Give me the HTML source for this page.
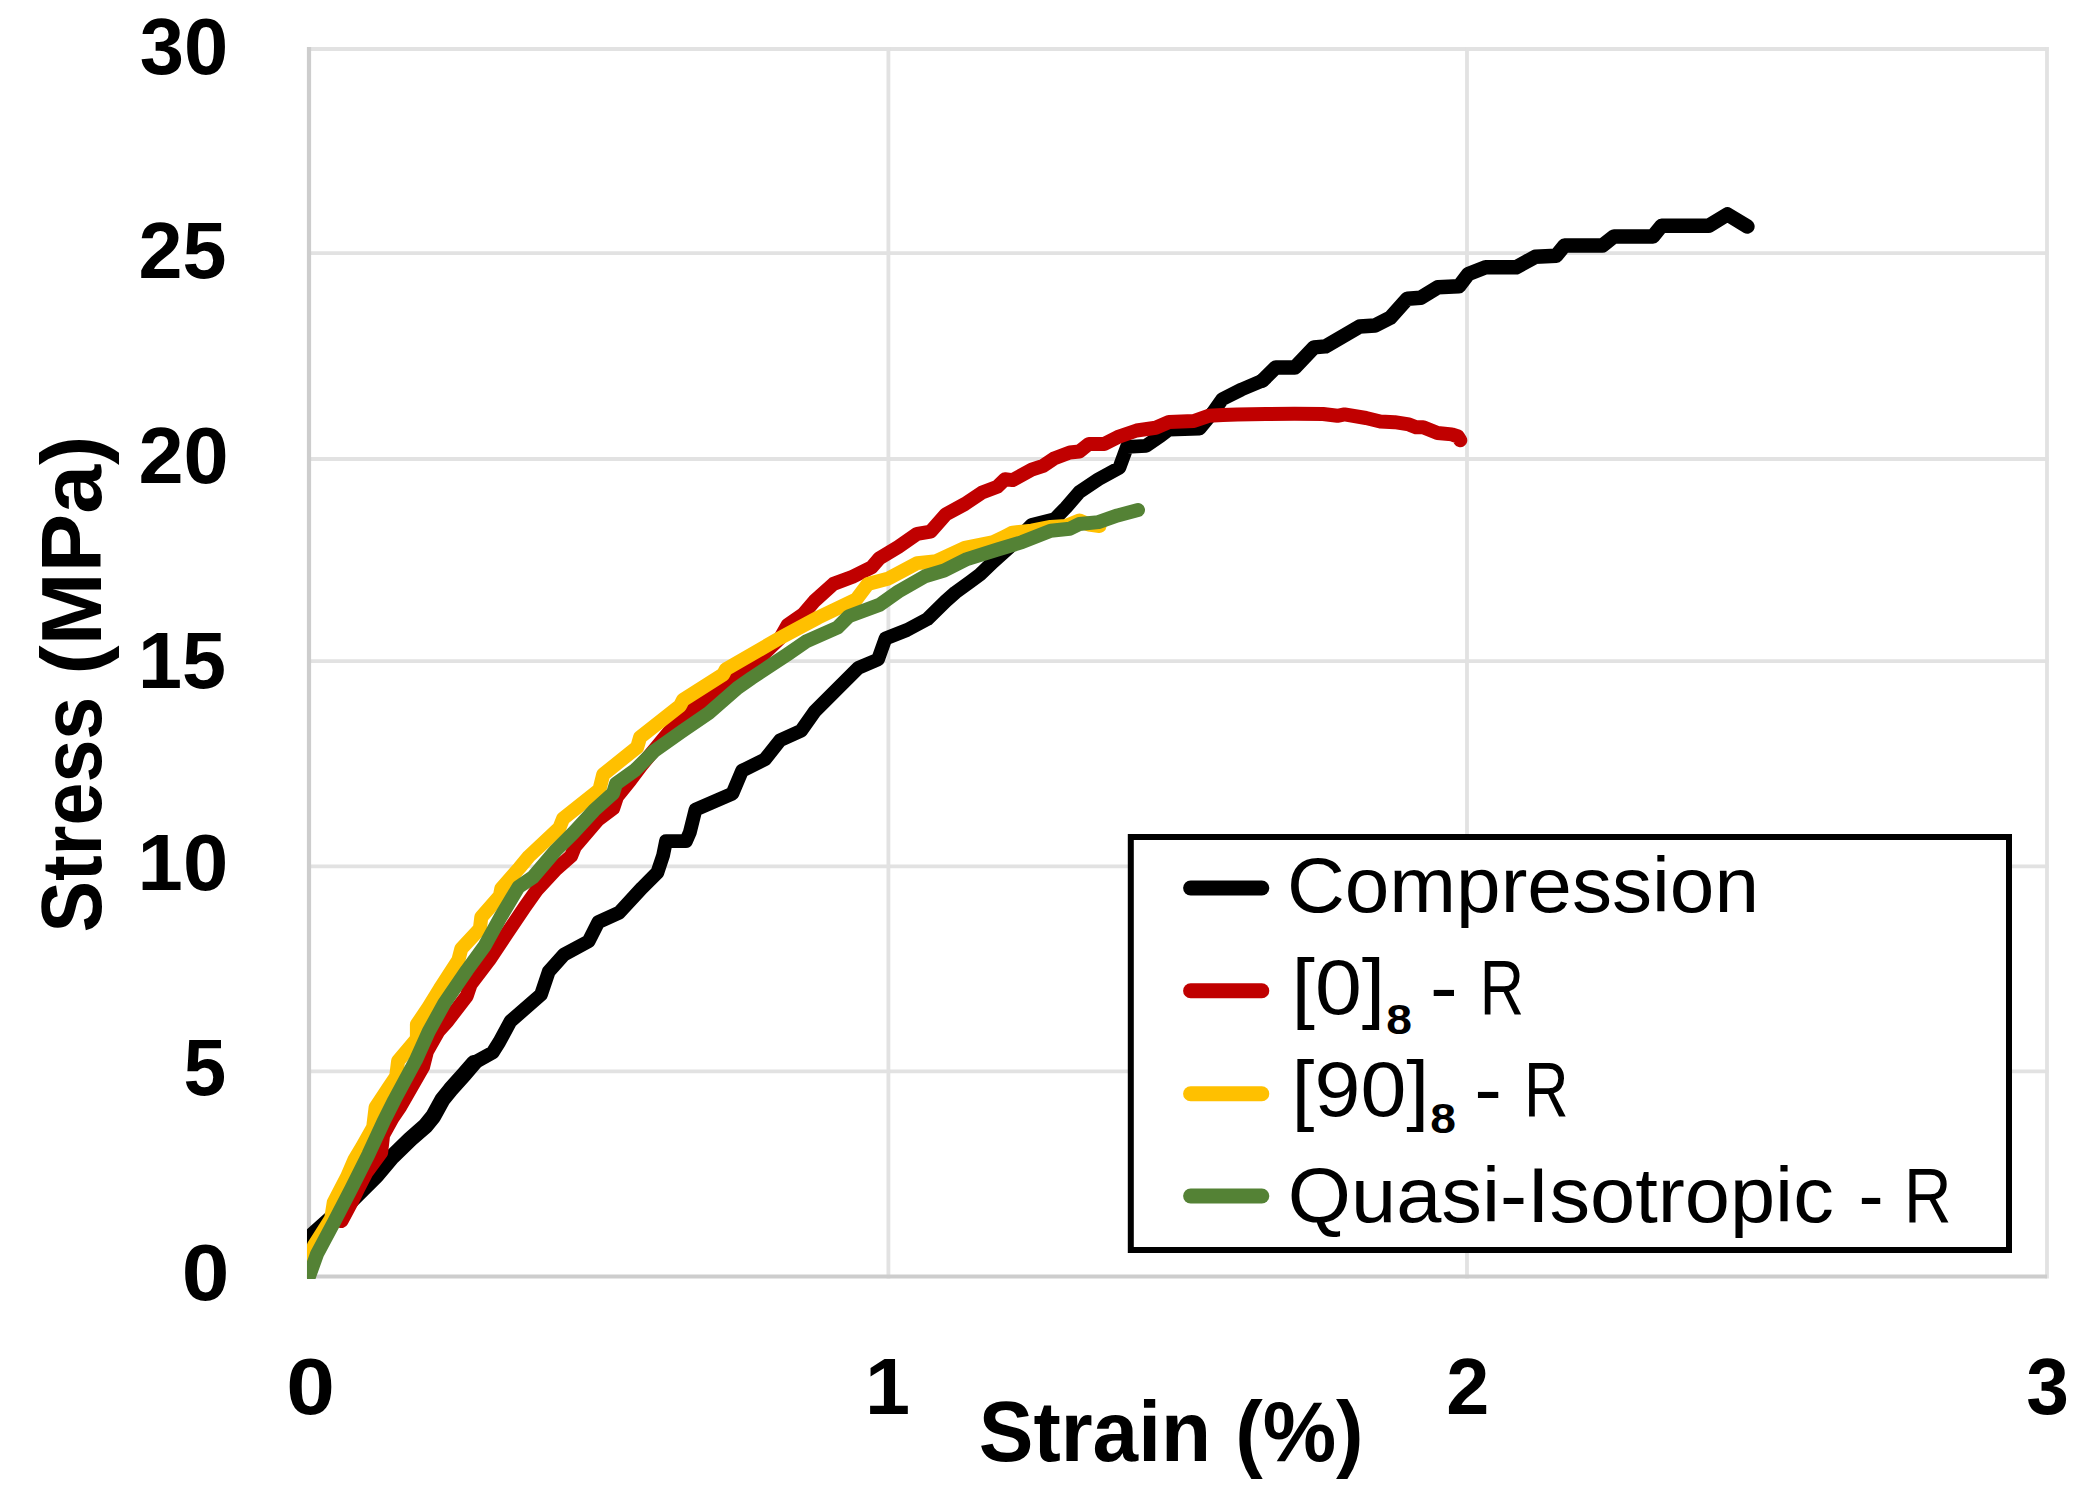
<!DOCTYPE html>
<html lang="en"><head><meta charset="utf-8"><title>Stress vs Strain</title>
<style>html,body{margin:0;padding:0;background:#fff}body{width:2097px;height:1490px;overflow:hidden}svg{display:block}text{font-family:"Liberation Sans",Arial,Helvetica,sans-serif;fill:#000}.b{font-weight:700}</style></head><body>
<svg width="2097" height="1490" viewBox="0 0 2097 1490">
<rect width="2097" height="1490" fill="#fff"/>
<g stroke="#e2e2e2" stroke-width="3.8" fill="none">
<line x1="309.0" y1="1071.3" x2="2048.9" y2="1071.3"/>
<line x1="309.0" y1="866.3" x2="2048.9" y2="866.3"/>
<line x1="309.0" y1="661.2" x2="2048.9" y2="661.2"/>
<line x1="309.0" y1="459.0" x2="2048.9" y2="459.0"/>
<line x1="309.0" y1="253.2" x2="2048.9" y2="253.2"/>
<line x1="309.0" y1="49.0" x2="2048.9" y2="49.0"/>
<line x1="888.4" y1="47.1" x2="888.4" y2="1278.4"/>
<line x1="1467.0" y1="47.1" x2="1467.0" y2="1278.4"/>
<line x1="2047.0" y1="47.1" x2="2047.0" y2="1278.4"/>
</g>
<g stroke="#cdcdcd" stroke-width="4.2" fill="none">
<line x1="309.0" y1="47.1" x2="309.0" y2="1278.6"/>
<line x1="306.9" y1="1276.5" x2="2047.0" y2="1276.5"/>
</g>
<defs><clipPath id="pc"><rect x="307.0" y="47.0" width="1742.0" height="1231.9"/></clipPath></defs>
<g clip-path="url(#pc)" fill="none" stroke-linejoin="round" stroke-linecap="round">
<path stroke="#000000" stroke-width="16.0" d="M303.0 1243.5 L312.0 1235.5 L351.7 1200.0 L376.3 1175.5 L392.5 1156.4 L410.2 1139.2 L425.5 1125.9 L433.2 1116.4 L442.7 1099.2 L450.4 1089.7 L464.1 1074.4 L474.0 1062.9"/>
<path stroke="#000000" stroke-width="13.8" d="M474.0 1062.9 L492.7 1052.5 L499.3 1042.0 L510.5 1021.3 L541.0 994.6 L548.7 971.7 L563.9 954.6 L588.7 941.2 L598.3 922.1 L619.2 912.6 L642.1 887.8 L657.4 872.5 L663.1 855.4 L666.0 841.1 L686.0 841.1 L689.8 832.5 L695.5 809.6 L732.4 793.7 L742.0 770.8 L764.9 759.4 L780.1 740.3 L801.1 730.7 L814.5 711.7 L833.5 692.6 L858.3 667.8 L878.0 659.5 L885.5 638.5 L907.0 630.0 L927.5 619.0 L945.8 601.0 L955.4 592.5 L970.6 581.5 L980.0 574.5 L993.5 561.5 L1008.8 547.9 L1031.7 525.0 L1054.6 519.2 L1066.0 507.5 L1079.4 492.0 L1098.4 479.2 L1119.4 467.7 L1127.0 446.8 L1146.1 445.8 L1161.4 435.3 L1169.0 429.6 L1199.5 428.6 L1212.9 412.4 L1222.4 399.1 L1241.5 389.5 L1262.4 380.7"/>
<path stroke="#000000" stroke-width="14.5" d="M1262.4 380.7 L1275.8 367.4 L1294.9 367.4 L1313.9 347.4 L1325.4 346.4 L1359.7 326.4 L1375.0 325.4 L1390.2 317.8 L1407.4 298.7 L1420.7 297.8 L1437.9 287.3 L1458.9 286.3 L1468.4 273.9 L1485.6 267.3 L1516.1 267.3 L1535.2 256.8 L1556.2 255.8 L1564.5 245.5 L1602.5 245.5 L1614.0 236.4 L1653.0 236.4 L1661.6 225.8 L1708.8 225.8 L1727.4 214.4 L1747.4 226.5"/>
<path stroke="#c00000" stroke-width="14.0" d="M341.5 1221.0 L352.7 1200.0 L358.0 1189.0 L366.4 1172.5 L381.1 1152.6 L383.1 1135.0 L392.2 1118.5 L400.2 1106.8 L423.1 1066.8 L426.9 1051.5 L438.1 1031.7 L447.6 1021.0 L466.8 995.9 L470.6 984.5 L489.2 960.1 L506.3 934.4 L524.7 907.2 L536.8 890.0 L555.8 869.5 L571.1 856.1 L574.9 846.6 L597.8 819.9 L613.1 808.5 L616.9 797.0 L630.6 779.8 L640.9 766.0 L680.1 718.8 L723.1 685.9 L758.8 658.7 L780.3 638.0 L787.7 625.0 L803.2 614.2 L814.5 601.0 L833.5 583.9 L852.6 576.7 L871.7 567.2 L879.1 558.6 L898.2 547.1 L917.2 533.8 L930.6 531.7 L945.8 514.3 L964.9 504.0 L982.1 492.5 L997.3 486.8 L1005.0 479.2 L1012.6 480.1 L1031.7 469.7 L1043.1 465.8 L1054.6 458.2 L1069.8 452.5 L1079.4 451.5 L1088.9 443.9 L1104.2 443.9 L1117.5 437.2 L1136.6 430.5 L1155.7 427.7 L1169.0 422.0 L1193.8 421.0 L1208.6 415.8 L1222.9 415.1 L1237.2 414.4 L1265.8 414.0 L1294.4 413.7 L1323.0 414.0 L1337.4 415.8 L1344.5 414.4 L1366.0 418.0 L1380.3 421.5 L1394.6 422.2 L1408.9 424.4 L1416.0 427.3 L1423.2 427.3 L1437.5 433.0 L1451.8 434.4 L1458.0 436.5 L1460.3 440.3"/>
<path stroke="#ffc000" stroke-width="14.0" d="M304.0 1283.0 L308.5 1274.0 L313.9 1245.8 L331.2 1218.5 L333.7 1202.5 L347.2 1176.5 L354.6 1159.3 L362.1 1146.9 L373.2 1127.2 L375.6 1107.4 L389.0 1087.0 L396.2 1076.3 L398.1 1061.0 L416.9 1038.8 L416.9 1024.5 L428.4 1007.4 L439.8 988.8 L458.4 960.1 L461.3 948.7 L479.9 928.7 L481.3 917.2 L499.9 895.8 L501.3 888.6 L519.3 868.0 L528.8 856.5 L559.4 827.9 L563.2 818.4 L599.4 789.8 L603.2 774.5 L637.2 747.2 L640.1 737.2 L660.1 721.5 L680.1 705.7 L683.0 700.0 L723.1 674.5 L725.9 669.2 L780.3 637.8 L818.3 617.5 L856.4 599.2 L867.9 584.0 L888.6 578.4 L917.2 563.1 L936.3 561.2 L964.9 547.9 L993.5 542.1 L1005.0 536.4 L1012.6 532.6 L1031.7 530.7 L1050.7 526.9 L1066.0 525.9 L1079.4 520.5 L1088.9 524.5 L1099.5 526.0"/>
<path stroke="#548235" stroke-width="14.0" d="M305.0 1283.0 L309.0 1276.5 L316.9 1254.3 L333.3 1223.5 L351.2 1188.9 L368.5 1154.3 L383.3 1122.2 L394.4 1100.0 L415.8 1060.3 L428.7 1031.7 L444.4 1003.1 L467.1 970.0 L484.7 945.8 L500.5 917.2 L518.5 887.0 L533.0 877.1 L555.8 850.4 L573.0 833.2 L594.0 810.4 L613.1 793.2 L616.0 783.7 L634.9 770.3 L654.4 750.9 L681.6 731.6 L708.8 713.0 L737.4 688.0 L751.7 678.0 L787.4 654.4 L806.8 641.1 L837.3 627.7 L848.8 616.3 L879.3 604.9 L898.4 591.5 L925.1 576.2 L944.2 570.5 L967.0 559.1 L997.6 549.5 L1022.1 542.1 L1050.7 530.7 L1069.8 528.8 L1079.4 524.0 L1098.4 522.1 L1117.5 515.4 L1138.0 510.0"/>
</g>
<text class="b" font-size="79.5" x="139.76" y="74.0" textLength="88.47" lengthAdjust="spacingAndGlyphs">30</text>
<text class="b" font-size="79.5" x="138.53" y="278.2" textLength="88.04" lengthAdjust="spacingAndGlyphs">25</text>
<text class="b" font-size="79.5" x="138.47" y="482.5" textLength="90.22" lengthAdjust="spacingAndGlyphs">20</text>
<text class="b" font-size="79.5" x="138.05" y="687.8" textLength="88.12" lengthAdjust="spacingAndGlyphs">15</text>
<text class="b" font-size="79.5" x="137.61" y="890.0" textLength="90.59" lengthAdjust="spacingAndGlyphs">10</text>
<text class="b" font-size="79.5" x="183.40" y="1094.8" textLength="42.71" lengthAdjust="spacingAndGlyphs">5</text>
<text class="b" font-size="79.5" x="181.82" y="1300.0" textLength="47.65" lengthAdjust="spacingAndGlyphs">0</text>
<text class="b" font-size="79.5" x="286.26" y="1413.6" textLength="48.68" lengthAdjust="spacingAndGlyphs">0</text>
<text class="b" font-size="79.5" x="864.93" y="1413.6" textLength="45.09" lengthAdjust="spacingAndGlyphs">1</text>
<text class="b" font-size="79.5" x="1446.28" y="1413.6" textLength="43.05" lengthAdjust="spacingAndGlyphs">2</text>
<text class="b" font-size="79.5" x="2026.30" y="1413.6" textLength="42.60" lengthAdjust="spacingAndGlyphs">3</text>
<text><tspan class="b" font-size="85.0" x="978.72" y="1460.6" textLength="232.24" lengthAdjust="spacingAndGlyphs">Strain</tspan> <tspan class="b" font-size="85.0" x="1235.13" y="1460.6" textLength="128.46" lengthAdjust="spacingAndGlyphs">(%)</tspan></text>
<g transform="translate(101.0 932) rotate(-90)">
<text><tspan class="b" font-size="85.0" x="-0.50" y="0.0" textLength="235.73" lengthAdjust="spacingAndGlyphs">Stress</tspan> <tspan class="b" font-size="85.0" x="257.18" y="0.0" textLength="239.19" lengthAdjust="spacingAndGlyphs">(MPa)</tspan></text>
</g>
<rect x="1130.8" y="837" width="878.2" height="413.0" fill="#fff" stroke="#000" stroke-width="6.0"/>
<g fill="none" stroke-linecap="round" stroke-width="15.0">
<line x1="1190.6" y1="888.0" x2="1261.8" y2="888.0" stroke="#000000"/>
<line x1="1190.6" y1="990.8" x2="1261.8" y2="990.8" stroke="#c00000"/>
<line x1="1190.6" y1="1093.7" x2="1261.8" y2="1093.7" stroke="#ffc000"/>
<line x1="1190.6" y1="1196.0" x2="1261.8" y2="1196.0" stroke="#548235"/>
</g>
<text font-size="78.0" x="1286.94" y="912.0" textLength="472.06" lengthAdjust="spacingAndGlyphs">Compression</text>
<text><tspan font-size="78.0" x="1291.54" y="1014.3" textLength="93.64" lengthAdjust="spacingAndGlyphs">[0]</tspan><tspan class="b" font-size="42.5" x="1386.16" y="1033.6" textLength="25.69" lengthAdjust="spacingAndGlyphs">8</tspan> <tspan font-size="78.0" x="1430.00" y="1014.3" textLength="27.71" lengthAdjust="spacingAndGlyphs">-</tspan> <tspan font-size="78.0" x="1479.71" y="1014.3" textLength="44.32" lengthAdjust="spacingAndGlyphs">R</tspan></text>
<text><tspan font-size="78.0" x="1291.64" y="1116.3" textLength="137.63" lengthAdjust="spacingAndGlyphs">[90]</tspan><tspan class="b" font-size="42.5" x="1430.36" y="1132.6" textLength="25.69" lengthAdjust="spacingAndGlyphs">8</tspan> <tspan font-size="78.0" x="1474.30" y="1116.3" textLength="27.71" lengthAdjust="spacingAndGlyphs">-</tspan> <tspan font-size="78.0" x="1523.88" y="1116.3" textLength="44.56" lengthAdjust="spacingAndGlyphs">R</tspan></text>
<text><tspan font-size="78.0" x="1287.89" y="1221.8" textLength="545.87" lengthAdjust="spacingAndGlyphs">Quasi-Isotropic</tspan> <tspan font-size="78.0" x="1858.45" y="1221.8" textLength="25.07" lengthAdjust="spacingAndGlyphs">-</tspan> <tspan font-size="78.0" x="1904.06" y="1221.8" textLength="47.52" lengthAdjust="spacingAndGlyphs">R</tspan></text>
</svg></body></html>
